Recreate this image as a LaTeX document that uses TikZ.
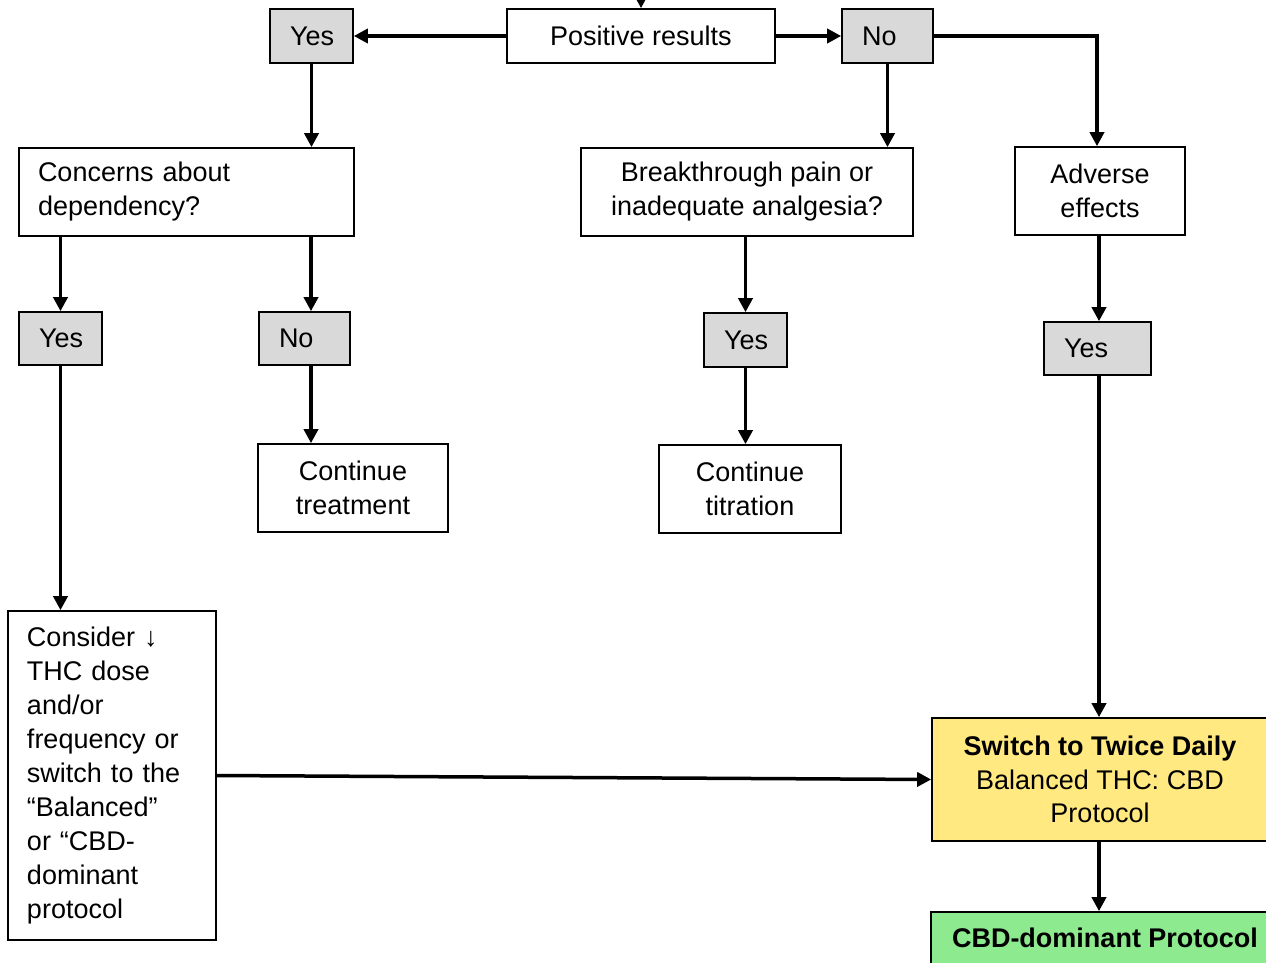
\documentclass[tikz,border=0pt]{standalone}
\usepackage{fontspec}
\setmainfont{Liberation Sans}
\usetikzlibrary{arrows.meta}
\definecolor{answergray}{HTML}{D9D9D9}
\definecolor{switchyellow}{HTML}{FFE980}
\definecolor{cbdgreen}{HTML}{8EEA8E}
\begin{document}
\begin{tikzpicture}[x=1pt,y=-1pt,
  box/.style={draw=black, line width=1.6pt, fill=white, inner sep=0pt,
    font=\fontsize{27}{34}\selectfont, align=center},
  % answer boxes: text set flush left with a fixed padding
  answer/.style={box, fill=answergray, inner xsep=20pt, text width=#1, align=left},
  flow/.style={line width=3.5pt, -{Triangle[length=14pt,width=14pt]}},
]
\useasboundingbox (0,0) rectangle (1266,963);

% first level
\node[box, minimum width=268pt, minimum height=54pt] (pr) at (641,36) {Positive results};
\node[answer=43pt, minimum height=54pt] (yesA) at (311.5,36) {Yes};
\node[answer=51pt, minimum height=54pt] (noA) at (887.5,36) {No};

% questions
\node[box, minimum width=335pt, minimum height=88pt, text width=297pt, align=left]
  (dep) at (186.5,192) {Concerns about\\dependency?};
\node[box, minimum width=332pt, minimum height=88pt] (pain) at (747,192)
  {Breakthrough pain or\\inadequate analgesia?};
\node[box, minimum width=170pt, minimum height=88pt] (adv) at (1100,191) {Adverse\\effects};

% answers
\node[answer=43pt, minimum height=53pt] (yesB) at (60.5,338.5) {Yes};
\node[answer=51pt, minimum height=53pt] (noB) at (304.5,338.5) {No};
\node[answer=43pt, minimum height=54pt] (yesC) at (745.5,340) {Yes};
\node[answer=67pt, minimum height=53pt] (yesD) at (1097.5,348.5) {Yes};

% outcomes
\node[box, minimum width=190pt, minimum height=88pt] (treat) at (353,488) {Continue\\treatment};
\node[box, minimum width=182pt, minimum height=88pt] (titr) at (750,489) {Continue\\titration};
\node[box, minimum width=208pt, minimum height=329pt, text width=170pt, align=left]
  (cons) at (112,775.5)
  {Consider ↓\\THC dose\\and/or\\frequency or\\switch to the\\“Balanced”\\or “CBD-\\dominant\\protocol};
\node[box, fill=switchyellow, minimum width=336pt, minimum height=123pt,
  font=\fontsize{27}{33.5}\selectfont] (sw) at (1100,779.5)
  {\textbf{Switch to Twice Daily}\\Balanced THC: CBD\\Protocol};
\node[box, fill=cbdgreen, minimum width=348pt, minimum height=52pt,
  font=\fontsize{27}{33.5}\selectfont\bfseries] (cbd) at (1105,938) {CBD-dominant Protocol};

% column positions of vertical connectors
\coordinate (colL) at (311,0);
\coordinate (colR) at (1099,0);
\coordinate (colA) at (1097,0);
\coordinate (entry) at (641,-20);

% connectors
\draw[flow] (entry) -- (pr.north);
\draw[flow] (pr.west) -- (yesA.east);
\draw[flow] (pr.east) -- (noA.west);
\draw[flow] (yesA.south) -- (yesA.south |- dep.north);
\draw[flow] (noA.south) -- (noA.south |- pain.north);
\draw[flow] (noA.east) -| (colA |- adv.north);

\draw[flow] (yesB.north |- dep.south) -- (yesB.north);
\draw[flow] (colL |- dep.south) -- (colL |- noB.north);
\draw[flow] (colL |- noB.south) -- (colL |- treat.north);
\draw[flow] (yesC.north |- pain.south) -- (yesC.north);
\draw[flow] (yesC.south) -- (yesC.south |- titr.north);
\draw[flow] (colR |- adv.south) -- (colR |- yesD.north);

\draw[flow] (yesB.south) -- (yesB.south |- cons.north);
\draw[flow] (colR |- yesD.south) -- (colR |- sw.north);
\draw[flow] (cons.east) -- (sw.west);
\draw[flow] (colR |- sw.south) -- (colR |- cbd.north);
\end{tikzpicture}
\end{document}
